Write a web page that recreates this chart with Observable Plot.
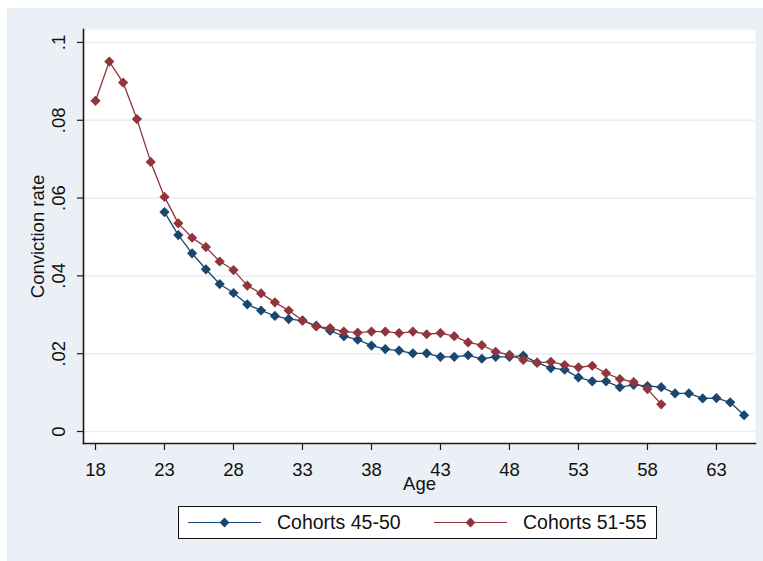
<!DOCTYPE html>
<html>
<head>
<meta charset="utf-8">
<script src="https://cdn.jsdelivr.net/npm/d3@7"></script>
<script src="https://cdn.jsdelivr.net/npm/@observablehq/plot@0.6"></script>
<style>
  html, body { margin: 0; padding: 0; background: #ffffff; }
  #wrap {
    position: absolute; left: 7px; top: 8px; width: 756px; height: 553px;
    background: #ebf0f6; font-family: "Liberation Sans", Arial, sans-serif;
  }
  #legend {
    position: absolute; left: 171px; top: 498px; width: 477px; height: 31px;
    background: #ffffff; border: 1.5px solid #111;
    font-size: 19.5px; color: #111;
  }
  .sline { position: absolute; top: 15px; height: 1.4px; width: 73px; }
  .smark { position: absolute; top: 11.5px; width: 7px; height: 7px; transform: rotate(45deg); }
  .stext { position: absolute; top: 4px; white-space: nowrap; }
</style>
</head>
<body>
<div id="wrap">
  <div id="chart"></div>
  <div id="legend"></div>
</div>
<script>
// ---- data ----
const ages4550 = [23,24,25,26,27,28,29,30,31,32,33,34,35,36,37,38,39,40,41,42,43,44,45,46,47,48,49,50,51,52,53,54,55,56,57,58,59,60,61,62,63,64,65];
const rates4550 = [.0564,.0505,.0458,.0417,.0379,.0356,.0327,.0311,.0297,.0289,.0285,.0272,.0259,.0245,.0236,.0221,.0212,.0208,.0201,.0201,.0192,.0192,.0196,.0187,.0192,.0192,.0195,.0177,.0163,.0159,.0139,.0129,.0129,.0114,.0120,.0117,.0114,.0098,.0098,.0085,.0086,.0075,.0042];
const ages5155 = [18,19,20,21,22,23,24,25,26,27,28,29,30,31,32,33,34,35,36,37,38,39,40,41,42,43,44,45,46,47,48,49,50,51,52,53,54,55,56,57,58,59];
const rates5155 = [.0850,.0951,.0897,.0803,.0693,.0603,.0535,.0498,.0474,.0437,.0415,.0375,.0355,.0332,.0311,.0286,.0270,.0266,.0257,.0254,.0257,.0257,.0253,.0257,.0250,.0253,.0245,.0229,.0222,.0205,.0197,.0184,.0177,.0179,.0171,.0165,.0169,.0150,.0135,.0127,.0109,.0070];
const seriesNames = ["Cohorts 45-50", "Cohorts 51-55"];
const seriesColors = ["#1a476f", "#90353b"];
const xTicks = [18,23,28,33,38,43,48,53,58,63];
const yTicks = [0, 0.02, 0.04, 0.06, 0.08, 0.1];
const yTickLabels = ["0", ".02", ".04", ".06", ".08", ".1"];
const xTitle = "Age";
const yTitle = "Conviction rate";

const s1 = ages4550.map((a, i) => ({age: a, rate: rates4550[i]}));
const s2 = ages5155.map((a, i) => ({age: a, rate: rates5155[i]}));
const yLab = yTicks.map((v, i) => ({v, t: yTickLabels[i]}));

const font = "Liberation Sans, Arial, sans-serif";
const axisColor = "#1a1a1a";
const gridColor = "#e9eef5";

const chart = Plot.plot({
  width: 756,
  height: 490,
  marginLeft: 76,
  marginRight: 8,
  marginTop: 21,
  marginBottom: 55,
  style: {background: "transparent", fontFamily: font, fontSize: "18px", color: "#111"},
  x: {domain: [17.13, 65.83], axis: null},
  y: {domain: [-0.00308, 0.10333], axis: null},
  marks: [
    Plot.frame({fill: "white", stroke: null}),
    Plot.ruleY(yTicks, {stroke: gridColor, strokeWidth: 1.5}),
    // axis lines
    Plot.frame({anchor: "left", stroke: axisColor, strokeWidth: 1.6}),
    Plot.frame({anchor: "bottom", stroke: axisColor, strokeWidth: 1.6}),
    // ticks
    Plot.axisY({ticks: yTicks, tickSize: 6, tickFormat: () => "", label: null, stroke: axisColor, strokeWidth: 1.2}),
    Plot.axisX({ticks: xTicks, tickSize: 7, tickFormat: () => "", label: null, stroke: axisColor, strokeWidth: 1.2}),
    // tick labels
    Plot.text(xTicks, {x: d => d, frameAnchor: "bottom", dy: 19, lineAnchor: "top", fontSize: 18.5, fill: "#111"}),
    Plot.text(yLab, {y: "v", text: "t", frameAnchor: "left", dx: -24, rotate: -90, lineAnchor: "middle", textAnchor: "middle", fontSize: 18.5, fill: "#111"}),
    // titles
    Plot.text([xTitle], {frameAnchor: "bottom", dy: 33, lineAnchor: "top", fontSize: 18.5, fill: "#111"}),
    Plot.text([yTitle], {frameAnchor: "left", dx: -45, rotate: -90, lineAnchor: "middle", textAnchor: "middle", fontSize: 18.5, fill: "#111"}),
    // series
    Plot.line(s1, {x: "age", y: "rate", stroke: seriesColors[0], strokeWidth: 1.3}),
    Plot.dot(s1, {x: "age", y: "rate", symbol: "diamond2", r: 4.6, fill: seriesColors[0], stroke: null}),
    Plot.line(s2, {x: "age", y: "rate", stroke: seriesColors[1], strokeWidth: 1.3}),
    Plot.dot(s2, {x: "age", y: "rate", symbol: "diamond2", r: 4.6, fill: seriesColors[1], stroke: null})
  ]
});
document.getElementById("chart").appendChild(chart);

// legend
const legend = document.getElementById("legend");
const pos = [{line: 9, text: 98}, {line: 255, text: 344}];
seriesNames.forEach((name, i) => {
  const l = document.createElement("div");
  l.className = "sline";
  l.style.left = pos[i].line + "px";
  l.style.background = seriesColors[i];
  legend.appendChild(l);
  const m = document.createElement("div");
  m.className = "smark";
  m.style.left = (pos[i].line + 33) + "px";
  m.style.background = seriesColors[i];
  legend.appendChild(m);
  const t = document.createElement("span");
  t.className = "stext";
  t.style.left = pos[i].text + "px";
  t.textContent = name;
  legend.appendChild(t);
});
</script>
</body>
</html>
